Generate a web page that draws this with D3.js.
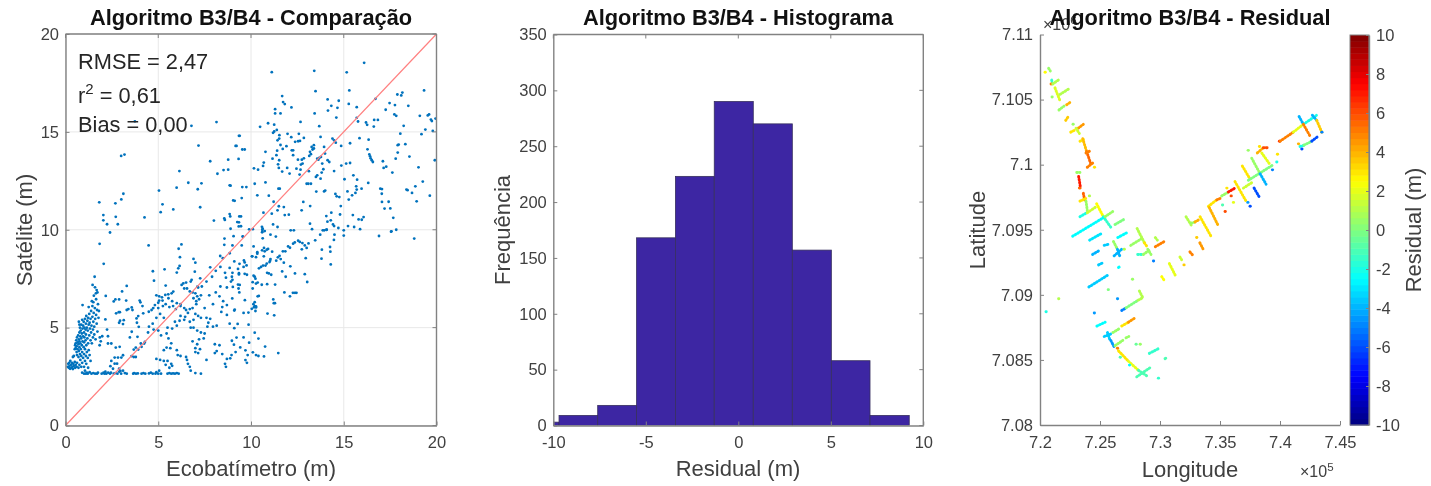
<!DOCTYPE html>
<html><head><meta charset="utf-8">
<script src="https://cdn.jsdelivr.net/npm/d3@7"></script>
<style>html,body{margin:0;background:#fff}svg{display:block;filter:blur(0.35px)}text{font-family:"Liberation Sans",Arial,sans-serif}</style>
</head><body><svg id="c" width="1431" height="486"></svg>
<script>
// ---- Panel 1: Ecobatímetro (x) vs Satélite (y)
const floorRow = [[0.9,2.7],[1.0,2.65],[1.05,2.8],[1.1,2.65],[1.15,2.7],[1.2,2.65],[1.3,2.72],[1.4,2.65],[1.5,2.68],[1.6,2.65],[1.7,2.65],[1.75,2.7],[1.95,2.65],[2.05,2.7],[2.1,2.65],[2.15,2.75],[2.2,2.65],[2.3,2.7],[2.4,2.65],[2.45,2.7],[2.6,2.65],[2.7,2.68],[2.8,2.65],[2.9,2.75],[3.0,2.65],[3.1,2.8],[3.2,2.68],[3.3,2.65],[3.65,2.65],[3.7,2.68],[3.8,2.65],[3.9,2.66],[4.1,2.65],[4.2,2.68],[4.3,2.65],[4.5,2.66],[4.6,2.7],[4.7,2.65],[4.85,2.65],[4.9,2.72],[5.0,2.65],[5.05,2.8],[5.15,2.65],[5.5,2.65],[5.6,2.68],[5.7,2.65],[5.8,2.66],[5.9,2.65],[6.0,2.68],[6.1,2.65],[6.75,2.8],[7.0,2.68],[7.3,2.65]];
const shallowCluster = [[0.12,3.0],[0.15,3.15],[0.18,2.95],[0.2,3.2],[0.22,3.05],[0.25,2.9],[0.26,3.3],[0.3,3.1],[0.32,2.95],[0.35,3.2],[0.38,3.0],[0.4,2.88],[0.42,3.15],[0.45,3.05],[0.5,3.25],[0.52,2.95],[0.55,3.1],[0.6,3.0],[0.62,3.2],[0.7,2.95],[0.75,3.1],[0.85,3.0],[0.4,3.5],[0.45,3.55],[0.62,3.6],
[0.5,3.9],[0.52,4.1],[0.55,4.2],[0.55,3.95],[0.58,4.35],[0.6,4.05],[0.6,3.75],[0.62,4.5],[0.65,4.25],[0.65,3.9],[0.68,4.6],[0.7,4.15],[0.7,3.5],[0.72,4.4],[0.72,3.8],[0.75,4.75],[0.75,4.3],[0.75,4.0],[0.78,3.65],[0.78,5.0],[0.8,4.55],[0.8,4.2],[0.8,3.35],[0.82,3.9],[0.82,4.85],[0.85,5.15],[0.85,4.45],[0.85,3.55],[0.88,4.1],[0.88,4.7],[0.9,5.4],[0.9,3.2],[0.9,3.75],[0.92,4.3],[0.92,4.95],[0.95,5.1],[0.95,4.55],[0.95,3.45],[0.98,4.0],[0.98,5.3],[1.0,4.75],[1.0,4.25],[1.0,3.65],[1.0,3.0],[1.02,5.0],[1.02,4.5],[1.05,5.45],[1.05,3.9],[1.05,3.3],[1.08,4.9],[1.08,4.35],[1.1,5.2],[1.1,4.65],[1.1,3.55],[1.12,5.6],[1.12,4.1],[1.12,3.15],[1.15,5.0],[1.15,3.75],[1.18,5.35],[1.18,4.45],[1.2,4.85],[1.2,3.45],[1.22,5.5],[1.22,4.2],[1.22,2.95],[1.25,5.15],[1.25,3.85],[1.28,5.7],[1.28,4.6],[1.3,5.25],[1.3,3.6],[1.32,4.95],[1.35,5.45],[1.35,4.35],[1.35,3.3],[1.38,5.85],[1.38,4.75],[1.4,5.1],[1.42,4.2],[1.45,5.55],[1.45,6.1],[1.48,4.9],[1.48,4.5],[1.5,5.3],[1.5,6.3],[1.52,5.75],[1.55,4.65],[1.55,5.05],[1.58,6.0],[1.6,5.45],[1.62,4.4],[1.65,5.65],[1.65,6.45],[1.68,5.2],[1.7,5.9],[1.72,4.8],[1.75,6.2],[1.78,5.5],[1.8,5.85],[1.85,4.5],[1.9,4.3],[0.92,6.15],[1.25,6.05],[1.42,6.35],[0.72,5.3],[0.75,5.15]];
const midCloud = [[2.4,9.86],[1.84,9.28],[4.48,9.2],[6.25,9.25],[6.1,9.03],[6.17,8.6],[6.15,8.15],[6.08,8.03],[6.0,7.81],[2.06,8.26],[4.71,7.88],[4.77,7.4],[5.34,7.98],[1.57,7.6],[1.46,7.18],[1.59,7.06],[1.68,6.92],[1.72,6.8],[1.64,6.75],[1.53,6.63],[2.17,6.62],[3.3,7.13],[3.05,6.85],[2.69,6.44],[2.89,6.44],[3.27,6.38],[2.6,6.34],[4.0,6.38],[4.04,6.29],[4.15,6.1],[3.57,6.03],[3.39,5.95],[3.3,5.9],[3.61,5.9],[2.73,5.73],[2.87,5.79],[2.93,5.79],[4.19,5.73],[3.92,5.59],[3.83,5.47],[3.14,5.38],[2.94,5.35],[2.89,5.25],[3.1,5.18],[3.85,5.25],[3.95,5.04],[2.24,4.9],[2.15,5.42],[1.98,4.56],[2.29,4.56],[1.84,4.1],[2.29,4.19],[2.47,4.19],[2.71,3.98],[2.92,4.02],[3.57,4.79],[3.88,4.53],[3.47,4.5],[4.06,4.19],[4.28,4.27],[4.24,4.19],[3.79,3.98],[3.68,3.88],[3.92,3.88],[4.1,4.02],[3.56,3.54],[3.68,3.5],[3.79,3.5],[3.1,3.59],[3.01,3.47],[2.83,3.47],[2.65,3.47],[2.65,3.16],[2.47,3.3],[2.42,3.03],[2.56,2.9],[2.89,2.9],[2.96,2.79],[2.78,3.16],
[4.49,5.81],[4.64,5.9],[4.73,6.0],[4.82,6.15],[5.0,6.27],[5.05,6.38],[5.23,6.38],[5.38,6.67],[5.54,6.7],[5.81,6.84],[5.72,6.75],[5.4,7.15],[6.26,7.18],[6.35,7.26],[6.5,7.3],[6.75,7.35],[6.8,7.44],[6.9,8.51],[7.0,8.32],[6.97,7.86],[7.26,7.52],[7.11,7.09],[7.8,8.08],[8.34,8.66],[8.48,8.55],[8.56,9.23],[4.9,6.65],[5.05,6.6],[5.2,6.55],[5.55,6.5],[5.75,6.35],[6.0,6.25],[6.2,6.2],[6.4,7.0],[6.55,7.0],[6.7,6.85],[6.85,6.8],[7.0,6.75],[7.15,7.05],[7.1,6.6],[7.3,6.65],[6.9,6.5],[7.2,6.45],[7.05,6.35],[5.0,6.0],[5.25,6.1],[5.4,6.2],[5.6,6.05],[5.8,6.1],[5.95,5.95],[6.2,6.1],[6.4,6.0],[6.5,5.9],[6.7,5.95],[6.85,6.0],[6.6,5.75],[7.0,5.7],[7.15,5.6],[7.3,5.5],[6.9,5.4],[6.7,5.3],[6.4,5.4],[6.15,5.35],[5.9,5.3],[6.0,5.1],[5.75,4.95],[5.5,5.0],[5.3,5.5],[5.1,5.7],[4.9,5.5],[4.7,5.2],[4.5,5.05],[4.45,4.75],[4.75,4.9],[5.0,4.85],[5.15,4.6],[5.45,4.7],[5.55,4.45],[5.7,4.2],[5.45,3.98],[5.3,3.85],[5.65,3.95],[6.0,3.85],[6.05,3.6],[6.2,3.55],[4.9,3.4],[5.1,3.35],[5.3,3.3],[5.5,3.3],[5.7,3.15],[5.6,2.95],[5.75,3.05],[5.4,3.1],[6.2,5.6],[6.45,5.55],[6.75,5.0],[6.9,5.0],[7.1,4.85],[7.3,4.75],[7.5,4.7],[7.45,4.45],[7.2,4.4],[7.1,4.15],[7.0,3.95],[7.25,3.9],[6.85,4.3],[6.55,3.35],[6.6,3.15],[6.7,3.0],[6.5,3.5],[7.15,3.7],[7.0,3.75],[7.7,5.25],[7.8,5.45],[7.6,5.5],[7.95,5.05],[8.15,5.1],[7.65,5.05],[7.5,6.0],[7.75,6.65],[7.95,6.2],[8.1,6.8],[8.3,6.6],[8.5,6.35],[8.7,6.15],[8.45,6.05],[8.35,7.1],[8.7,7.05],[8.4,5.8],[8.7,5.65],[8.85,5.2],[8.05,4.15],[8.3,4.1],[8.15,3.8],[8.45,3.65],[8.7,3.4],[8.6,3.15],[8.65,3.0],[8.05,3.7],[7.6,3.35],[7.05,6.2],[7.35,7.1],[7.6,7.35],[7.9,7.6],[8.1,7.9],[8.6,7.8],[8.65,7.55],[8.85,8.05],[8.35,8.1],[9.3,8.0],[8.85,8.8]];
const deepCloud = [[10.2,4.74],[10.4,4.44],[10.76,4.03],[11.47,3.7],[10.7,3.53],[10.1,3.74],[10.27,3.6],[10.4,3.55],[9.9,4.23],[9.6,4.5],[9.22,4.49],[8.97,4.33],[9.08,4.13],[9.42,3.99],[9.7,3.84],[9.17,3.75],[8.95,3.6],[8.88,3.43],[9.82,3.6],[9.7,3.34],[9.78,3.2],[9.28,5.19],[9.87,5.15],[9.1,4.97],[11.25,5.63],[10.89,5.72],[9.86,5.77],[9.6,5.75],[9.1,5.87],[9.12,5.92],[10.24,5.85],[10.04,5.96],[10.16,6.04],[10.27,6.03],[10.2,6.1],[10.27,6.08],[10.13,6.2],[10.2,6.3],[9.67,6.4],[8.99,6.49],[10.36,6.6],[10.42,6.62],[11.2,6.44],[11.29,6.25],[11.23,6.25],[11.8,6.8],[12.1,6.6],[12.26,6.78],[12.37,6.78],[12.45,6.78],[13.03,7.33],[12.9,7.73],[12.37,7.77],[11.87,7.6],[11.68,7.87],[12.12,8.13],[11.3,7.2],[10.87,7.22],[10.58,7.19],[10.36,7.3],[10.27,7.25],[10.09,7.32],[10.09,7.0],[9.33,7.0],[9.37,6.8],[9.02,7.08],[9.3,7.2],[9.39,7.18],[8.92,7.35],[9.0,7.44],[8.97,7.6],[9.0,7.8],[9.35,7.72],[9.35,7.78],[9.66,7.75],[9.78,7.7],[10.2,7.6],[10.14,7.65],[10.24,7.5],[10.87,7.8],[10.96,7.77],[11.09,7.7],[10.43,8.03],[10.54,8.1],[10.65,8.17],[10.78,8.17],[10.85,8.27],[11.0,8.35],[11.05,8.5],[11.03,8.42],[11.36,8.42],[11.45,8.59],[11.54,8.67],[11.6,8.5],[11.77,8.32],[11.72,8.9],[11.85,8.9],[12.0,9.15],[12.1,9.08],[12.27,9.29],[12.36,9.35],[12.54,9.44],[12.63,9.38],[12.77,9.32],[12.9,9.2],[12.95,8.55],[13.0,9.07],[13.1,9.3],[12.74,9.0],[13.46,9.46],[13.8,8.52],[13.82,8.98],[14.26,9.12],[14.28,8.88],[14.3,8.23],[13.73,9.75],[14.47,9.48],[14.5,9.75],[15.0,9.7],[16.9,9.68],[17.57,9.92],[18.8,9.55],[15.0,9.97],[17.83,10.0],[13.87,9.97],[14.07,10.0],[10.14,9.15],[10.05,8.64],[10.34,8.85],[10.34,8.78],[10.6,8.95],[10.7,9.07],[10.74,8.9],[10.85,8.98],[10.92,9.02],[11.14,8.88],[10.69,8.64],[10.27,8.6],[10.07,8.64],[10.6,9.87],[10.63,9.56],[11.05,9.75],[11.34,9.65],[12.14,9.97],[9.1,8.38],[9.38,8.26],[9.62,8.43],[9.66,8.33],[9.6,8.1],[9.76,8.18],[9.0,9.2],[9.5,9.2],[9.55,9.66]];
const upperCloud = [[16.1,18.53],[15.16,18.04],[13.41,18.12],[11.12,18.05],[13.48,17.08],[15.3,17.12],[11.68,16.83],[11.73,16.52],[11.82,16.42],[12.18,16.25],[11.3,16.16],[11.3,15.94],[11.59,15.94],[13.43,15.94],[14.13,16.66],[14.33,16.33],[14.73,16.59],[14.66,16.23],[14.15,16.09],[15.27,16.43],[15.7,16.26],[16.71,16.69],[17.89,16.91],[18.16,17.01],[18.1,16.86],[17.47,16.47],[17.76,16.37],[17.26,16.13],[18.48,16.33],[19.33,17.12],[17.73,15.89],[17.83,15.82],[19.1,15.82],[19.53,15.84],[19.6,15.89],[19.7,15.63],[19.75,15.55],[19.95,15.68],[14.6,15.73],[15.7,15.72],[15.77,15.53],[16.64,15.61],[16.84,15.61],[16.2,15.48],[16.26,15.36],[16.62,15.27],[18.23,15.31],[19.4,15.12],[19.19,14.88],[19.8,15.05],[18.05,14.91],[12.67,15.51],[13.68,15.29],[10.92,15.44],[11.25,15.37],[10.49,15.26],[11.39,15.1],[11.25,15.02],[11.19,14.95],[9.35,14.8],[9.17,14.28],[9.53,14.1],[9.66,14.1],[9.33,13.62],[11.97,14.9],[12.58,14.9],[12.17,14.73],[11.53,14.83],[11.52,14.66],[11.43,14.57],[12.85,14.69],[13.75,14.74],[14.39,14.66],[14.48,14.57],[14.57,14.45],[12.38,14.49],[12.54,14.52],[12.64,14.54],[11.59,14.33],[11.91,14.27],[11.71,14.13],[11.41,14.04],[11.37,13.81],[11.16,13.63],[12.2,14.06],[12.27,14.06],[12.27,13.81],[10.78,13.98],[10.69,13.43],[10.65,13.26],[10.16,13.14],[10.38,13.07],[10.2,12.35],[10.78,12.42],[10.34,11.76],[10.96,11.74],[11.48,12.1],[11.55,12.1],[11.52,13.55],[11.46,13.34],[11.5,13.16],[11.68,12.97],[12.08,12.87],[11.95,13.16],[12.53,13.58],[12.74,13.58],[12.85,13.65],[12.69,13.33],[12.78,13.38],[12.45,13.12],[12.67,13.07],[12.62,12.82],[13.14,13.77],[13.23,13.86],[13.18,13.98],[13.32,14.1],[13.39,14.32],[13.27,14.23],[13.94,14.23],[13.39,14.15],[13.57,13.63],[13.68,13.67],[13.77,13.72],[13.63,13.58],[13.99,13.89],[14.13,13.55],[14.22,13.46],[13.84,13.38],[13.9,13.09],[13.81,12.92],[13.57,12.78],[13.5,12.7],[13.75,12.61],[14.48,13.0],[14.87,13.28],[15.13,13.38],[15.34,13.41],[15.04,12.58],[15.52,12.78],[15.72,12.56],[15.67,12.22],[15.96,12.1],[15.7,12.05],[15.63,11.88],[15.45,11.76],[15.27,11.54],[15.2,11.96],[16.32,12.39],[13.12,12.99],[13.0,12.35],[13.09,12.35],[13.23,12.35],[13.52,11.95],[13.94,11.96],[14.0,12.0],[14.55,11.83],[14.62,11.71],[14.76,11.67],[12.82,11.42],[13.19,11.21],[12.73,10.99],[11.77,11.16],[11.5,11.2],[11.43,10.99],[11.12,10.82],[11.82,10.75],[12.04,10.77],[11.22,11.43],[10.67,10.87],[14.84,11.21],[14.8,10.78],[14.33,10.87],[14.06,10.7],[14.3,10.48],[14.12,10.41],[13.18,10.31],[14.42,10.27],[14.48,10.19],[14.71,10.09],[14.08,10.0],[13.95,9.97],[13.29,10.03],[15.49,10.75],[15.8,10.53],[15.97,10.51],[16.07,10.65],[15.23,10.19],[15.56,10.14],[15.88,10.03],[17.67,10.61],[17.55,9.9],[17.06,11.42],[17.42,11.43],[17.2,11.08],[17.51,11.09],[18.93,11.45],[19.64,11.74],[19.26,12.46],[18.68,11.88],[18.86,12.22],[18.38,12.05],[18.44,12.02],[16.97,12.1],[17.06,12.08],[17.05,11.84],[19.03,13.19],[18.54,13.74],[17.91,13.94],[17.8,13.63],[17.96,14.35],[17.91,14.32],[18.32,14.37],[19.91,13.55],[17.11,13.5],[17.15,13.16],[17.29,13.22],[17.62,12.92],[16.34,14.6],[15.85,14.68],[15.34,14.42],[14.86,14.28],[16.28,14.11],[16.38,13.85],[16.42,13.75],[16.45,13.65],[16.51,13.55],[16.57,13.46],[8.85,12.27],[9.53,12.18],[9.75,12.18],[9.04,11.5],[9.5,11.62],[9.37,10.68],[9.26,10.39],[9.34,10.17],[8.85,10.8],[9.9,10.02],[10.1,10.03],[10.59,10.15],[10.61,10.0],[10.61,9.9],[10.74,9.93],[11.19,10.27],[11.43,10.14],[10.63,10.05],[12.31,9.97]];
const leftUpper = [[3.74,15.54],[6.79,15.31],[8.14,15.5],[9.39,14.8],[9.22,14.28],[7.17,14.3],[8.77,13.58],[7.8,13.5],[3.18,13.84],[3.0,13.77],[6.14,13.0],[8.19,12.86],[8.52,13.05],[8.77,13.07],[6.62,12.4],[7.33,12.37],[7.13,12.07],[5.99,12.15],[5.04,12.0],[8.9,12.25],[3.12,11.84],[3.01,11.55],[2.69,11.35],[1.82,11.4],[5.23,11.3],[5.13,10.9],[5.81,11.04],[7.26,11.15],[9.12,11.48],[2.04,10.75],[2.04,10.48],[2.71,10.66],[2.82,10.28],[2.24,10.28],[4.26,10.63],[8.0,10.47],[8.56,10.58],[8.59,10.5],[8.88,10.68],[9.46,10.68],[9.35,10.38],[9.46,10.18],[8.9,10.05],[8.57,9.55],[9.06,9.67],[9.57,9.64]];
const statLines = ["RMSE = 2,47", "Bias = 0,00"];
const axisTicks15 = [0,5,10,15,20];

// ---- Panel 2: histogram of residuals
const binEdges = [-11.8,-9.69,-7.6,-5.5,-3.4,-1.3,0.81,2.92,5.03,7.12,9.24];
const binCounts = [3,9,18,168,223,290,270,157,58,9];
const histXTicks = [-10,-5,0,5,10];
const histYTicks = [0,50,100,150,200,250,300,350];

// ---- Panel 3: survey tracks [lon1,lat1,lon2,lat2,residual], lon in 1e5 and lat in 1e6
const tracksNorth = [[7.2042,7.1071,7.2042,7.1071,2.5],[7.2072,7.1074,7.2086,7.1072,0.5],[7.2097,7.1065,7.2106,7.1062,-1.5],[7.2092,7.1062,7.2092,7.1062,5],[7.2106,7.1062,7.2153,7.1065,1],[7.2125,7.1059,7.2167,7.1049,1.8],[7.2167,7.1054,7.2236,7.1058,1],[7.21,7.1052,7.21,7.1052,0.5],[7.2158,7.1042,7.22,7.1045,0.5],[7.2222,7.1046,7.2253,7.1048,4],[7.2214,7.1034,7.2236,7.1037,3.5],[7.2275,7.1031,7.2275,7.1031,0.5],[7.2256,7.1025,7.23,7.1027,3],[7.2319,7.1028,7.2361,7.1031,4.5],[7.23,7.1028,7.2328,7.1024,1.5],[7.2333,7.1018,7.2378,7.102,3],[7.2356,7.102,7.2389,7.101,3.8],[7.2389,7.101,7.2422,7.1001,5.5],[7.2383,7.1009,7.2428,7.1011,5],[7.2394,7.0998,7.245,7.1002,5],[7.2453,7.0998,7.2453,7.0998,3],[7.2306,7.0994,7.2333,7.0994,0.5],[7.2322,7.0991,7.2336,7.0983,7],[7.2328,7.0982,7.235,7.0982,5.5],[7.2361,7.0978,7.2372,7.0973,5.5],[7.2333,7.0972,7.2381,7.0974,3],[7.2411,7.0976,7.2411,7.0976,1],[7.2383,7.0972,7.2397,7.0963,0.5],[7.2333,7.096,7.2389,7.0963,-2],[7.2394,7.0963,7.2472,7.0968,1.5],[7.2472,7.097,7.2528,7.096,2.5],[7.2528,7.096,7.2597,7.0951,-1.5],[7.2272,7.0945,7.2542,7.096,-2.5],[7.2542,7.096,7.2606,7.0964,0.5],[7.2625,7.0954,7.27,7.0958,0]];
const tracksSouth = [[7.2413,7.0942,7.251,7.0947,-3],[7.2438,7.0931,7.2493,7.0934,-4],[7.2535,7.0938,7.2579,7.0939,-3.5],[7.2648,7.0944,7.2729,7.0948,-2.5],[7.2488,7.0923,7.2532,7.0925,-3.5],[7.2407,7.0906,7.2562,7.0915,-3.5],[7.2612,7.0941,7.264,7.0936,0.5],[7.2618,7.093,7.2681,7.0935,-4],[7.2645,7.0935,7.2668,7.0929,-4],[7.2654,7.0921,7.2673,7.0922,-2.5],[7.2701,7.0935,7.2701,7.0935,1],[7.2756,7.0938,7.2861,7.0944,0.5],[7.2809,7.0951,7.287,7.094,1],[7.287,7.094,7.2892,7.0937,3],[7.2814,7.0931,7.2856,7.0931,-1.5],[7.2861,7.0931,7.2922,7.0935,0.5],[7.2898,7.0935,7.2925,7.0931,0.5],[7.2945,7.0926,7.2945,7.0926,-5],[7.2961,7.0944,7.2978,7.0942,1],[7.2961,7.0937,7.3036,7.0941,5],[7.277,7.0912,7.277,7.0912,0.5],[7.2568,7.0904,7.2568,7.0904,0],[7.2645,7.0897,7.2645,7.0897,-4.5],[7.2155,7.0897,7.2155,7.0897,1],[7.205,7.0887,7.205,7.0887,-2],[7.2452,7.0886,7.2452,7.0886,-4.5],[7.2828,7.0903,7.2861,7.0897,1],[7.2681,7.0888,7.2717,7.089,-5],[7.2717,7.089,7.282,7.0896,0],[7.282,7.0896,7.2861,7.0898,1],[7.2474,7.0876,7.2543,7.0879,-2.5],[7.2607,7.0871,7.2662,7.0874,0.5],[7.2681,7.0876,7.2737,7.0879,3],[7.2737,7.0879,7.2787,7.0882,4.5],[7.2535,7.0868,7.2593,7.087,-3.5],[7.2562,7.0871,7.2584,7.0865,-3.5],[7.259,7.0865,7.2618,7.086,-4.5],[7.2626,7.0861,7.269,7.0865,0.5],[7.2717,7.0867,7.274,7.0868,0.5],[7.2645,7.0859,7.2645,7.0859,5],[7.2654,7.0857,7.2737,7.0849,3],[7.2737,7.0849,7.282,7.0842,2],[7.282,7.0842,7.2903,7.0837,-1],[7.2806,7.0837,7.2917,7.0844,-1],[7.2668,7.0852,7.2668,7.0852,-1],[7.2745,7.0846,7.2745,7.0846,-2.5],[7.28,7.0862,7.28,7.0862,-0.5],[7.2834,7.0862,7.2834,7.0862,0.5],[7.2911,7.0855,7.2994,7.0859,-1.5],[7.3042,7.0851,7.3064,7.0852,-1],[7.2986,7.0836,7.2986,7.0836,-1.5]];
const tracksEast = [[7.3014,7.0914,7.3036,7.0911,2.5],[7.3078,7.0924,7.3133,7.0914,2],[7.3166,7.0929,7.318,7.0927,1.5],[7.3199,7.0923,7.3199,7.0923,3.5],[7.3249,7.0933,7.3277,7.093,5],[7.3305,7.0944,7.3305,7.0944,3.5],[7.3332,7.094,7.336,7.0935,4.5],[7.3217,7.096,7.3264,7.0953,1],[7.3259,7.0955,7.3292,7.0956,0.5],[7.3292,7.0956,7.3328,7.0958,4],[7.3334,7.096,7.3431,7.0944,3],[7.3403,7.0968,7.3473,7.0973,3],[7.3473,7.0973,7.35,7.0974,5],[7.3411,7.0967,7.3486,7.0953,4],[7.352,7.0969,7.352,7.0969,-1],[7.3542,7.0964,7.3542,7.0964,6],[7.3514,7.0976,7.357,7.0979,0.5],[7.357,7.0979,7.3625,7.0982,7],[7.3556,7.0982,7.3556,7.0982,3],[7.3592,7.0976,7.3592,7.0976,6],[7.3611,7.0971,7.3611,7.0971,2],[7.3625,7.0987,7.3723,7.0971,3],[7.3731,7.0971,7.3731,7.0971,-4.5],[7.375,7.0968,7.375,7.0968,-6],[7.3695,7.0982,7.3778,7.0987,1.5],[7.3784,7.0982,7.3828,7.0975,-6],[7.3686,7.0999,7.375,7.0989,3],[7.3736,7.0988,7.3945,7.1,0],[7.3764,7.1005,7.3834,7.0993,0.5],[7.3834,7.0993,7.3884,7.0985,-4],[7.3848,7.1009,7.3917,7.1,2],[7.3811,7.1009,7.3861,7.1013,4],[7.3861,7.1013,7.3895,7.1013,6],[7.3828,7.1014,7.3828,7.1014,3],[7.3734,7.1011,7.3734,7.1011,0.5],[7.3978,7.1008,7.3978,7.1008,3],[7.3936,7.0996,7.3936,7.0996,-5],[7.3972,7.1002,7.3972,7.1002,-2],[7.3995,7.1018,7.3995,7.1018,7],[7.4,7.1018,7.4111,7.1025,5],[7.4111,7.1025,7.4195,7.1031,2],[7.4195,7.1031,7.4306,7.1038,-2],[7.4159,7.1037,7.4195,7.1031,-4],[7.4195,7.1031,7.425,7.1022,5],[7.427,7.1038,7.4306,7.1034,-4],[7.4306,7.1034,7.4348,7.1025,3.5],[7.4348,7.1025,7.4348,7.1025,-5],[7.4167,7.1014,7.42,7.1015,-2],[7.42,7.1015,7.4264,7.1018,0],[7.4264,7.1018,7.432,7.1022,-6],[7.4153,7.1016,7.4153,7.1016,4],[7.4181,7.1012,7.4181,7.1012,-6]];
const lonTicks = [7.2,7.25,7.3,7.35,7.4,7.45];
const latTicks = [7.08,7.085,7.09,7.095,7.1,7.105,7.11];
const barTicks = [-10,-8,-6,-4,-2,0,2,4,6,8,10];

// ---- drawing
const svg = d3.select("#c");
const INK = "#404040", AX = "#828282", TICKF = 16.5, LABF = 22, TITLEF = 21.8;
const plain = d => String(d);
function styleAxis(g){
  g.selectAll("path").attr("stroke",AX).attr("stroke-width",1.4);
  g.selectAll("line").attr("stroke",AX).attr("stroke-width",1);
  g.selectAll("text").attr("fill",INK).attr("font-size",TICKF).attr("font-family","Liberation Sans");
}
function text(x,y,s,size,opts={}){
  return svg.append("text").attr("x",x).attr("y",y).attr("text-anchor",opts.anchor||"middle")
    .attr("font-size",size).attr("font-weight",opts.bold?"bold":"normal").attr("fill",opts.fill||INK)
    .attr("transform",opts.rot?`rotate(-90 ${x} ${y})`:null).text(s);
}
function frame(x,y,w,h,xTop,yRight){
  const g = svg.append("g");
  xTop.forEach(v=>g.append("line").attr("x1",x+v).attr("x2",x+v).attr("y1",y).attr("y2",y+4).attr("stroke",AX));
  yRight.forEach(v=>g.append("line").attr("x1",x+w).attr("x2",x+w-4).attr("y1",v).attr("y2",v).attr("stroke",AX));
  g.append("line").attr("x1",x).attr("x2",x+w).attr("y1",y).attr("y2",y).attr("stroke",AX).attr("stroke-width",1.4);
  g.append("line").attr("x1",x+w).attr("x2",x+w).attr("y1",y).attr("y2",y+h).attr("stroke",AX).attr("stroke-width",1.4);
}

// Panel 1
{
  const L=65.5,R=436.5,T=34,B=425.5;
  const x=d3.scaleLinear([0,20],[L,R]), y=d3.scaleLinear([0,20],[B,T]);
  const g=svg.append("g");
  axisTicks15.forEach(v=>{
    g.append("line").attr("x1",x(v)).attr("x2",x(v)).attr("y1",T).attr("y2",B).attr("stroke","#e8e8e8");
    g.append("line").attr("x1",L).attr("x2",R).attr("y1",y(v)).attr("y2",y(v)).attr("stroke","#e8e8e8");
  });
  const pts=[...floorRow,...shallowCluster,...midCloud,...deepCloud,...upperCloud,...leftUpper];
  g.selectAll("circle").data(pts).join("circle").attr("cx",d=>x(d[0])).attr("cy",d=>y(d[1])).attr("r",1.4).attr("fill","#0072BD");
  g.append("line").attr("x1",x(0)).attr("y1",y(0)).attr("x2",x(20)).attr("y2",y(20)).attr("stroke","#ff8080").attr("stroke-width",1.2);
  svg.append("g").attr("transform",`translate(0,${B})`).call(d3.axisBottom(x).tickValues(axisTicks15).tickFormat(plain).tickSize(-4).tickSizeOuter(0).tickPadding(11)).call(styleAxis);
  svg.append("g").attr("transform",`translate(${L},0)`).call(d3.axisLeft(y).tickValues(axisTicks15).tickFormat(plain).tickSize(-4).tickSizeOuter(0).tickPadding(6.5)).call(styleAxis);
  frame(L,T,R-L,B-T,axisTicks15.map(v=>x(v)-L),axisTicks15.map(v=>y(v)));
  text(251,25,"Algoritmo B3/B4 - Comparação",TITLEF,{bold:true,fill:"#111"});
  text(251,476,"Ecobatímetro (m)",LABF);
  text(32,230,"Satélite (m)",LABF,{rot:true});
  text(78,69,statLines[0],21.8,{anchor:"start",fill:"#262626"});
  const r=text(78,103,"",21.8,{anchor:"start",fill:"#262626"});
  r.append("tspan").text("r");
  r.append("tspan").attr("dy",-9).attr("font-size",15).text("2");
  r.append("tspan").attr("dy",9).text(" = 0,61");
  text(78,132,statLines[1],21.8,{anchor:"start",fill:"#262626"});
}

// Panel 2
{
  const L=553.3,R=923.3,T=34.5,B=425.5;
  const x=d3.scaleLinear([-10,10],[L,R]), y=d3.scaleLinear([0,350],[B,T]);
  svg.append("defs").append("clipPath").attr("id","hc").append("rect").attr("x",L).attr("y",T).attr("width",R-L).attr("height",B-T);
  svg.append("g").attr("clip-path","url(#hc)").selectAll("rect").data(binCounts).join("rect")
    .attr("x",(d,i)=>x(binEdges[i])).attr("width",(d,i)=>x(binEdges[i+1])-x(binEdges[i]))
    .attr("y",d=>y(d)).attr("height",d=>B-y(d)).attr("fill","#3d26a3").attr("stroke","#38305f").attr("stroke-width",0.8);
  svg.append("g").attr("transform",`translate(0,${B})`).call(d3.axisBottom(x).tickValues(histXTicks).tickFormat(plain).tickSize(-4).tickSizeOuter(0).tickPadding(11)).call(styleAxis);
  svg.append("g").attr("transform",`translate(${L},0)`).call(d3.axisLeft(y).tickValues(histYTicks).tickFormat(plain).tickSize(-4).tickSizeOuter(0).tickPadding(6.5)).call(styleAxis);
  frame(L,T,R-L,B-T,histXTicks.map(v=>x(v)-L),histYTicks.map(v=>y(v)));
  text(738,25,"Algoritmo B3/B4 - Histograma",TITLEF,{bold:true,fill:"#111"});
  text(738,476,"Residual (m)",LABF);
  text(510,230,"Frequência",LABF,{rot:true});
}

// Panel 3
{
  const L=1040,R=1340,T=34.5,B=425;
  const x=d3.scaleLinear([7.2,7.45],[L,R]), y=d3.scaleLinear([7.08,7.11],[B,T]);
  const jet=t=>{const c=v=>Math.max(0,Math.min(1,1.5-Math.abs(4*t-v)));return d3.rgb(255*c(3),255*c(2),255*c(1)).formatHex();};
  const color=d3.scaleSequential([-10,10],jet);
  svg.append("g").selectAll("line").data([...tracksNorth,...tracksSouth,...tracksEast]).join("line")
    .attr("x1",d=>x(d[0])).attr("y1",d=>y(d[1])).attr("x2",d=>x(d[2])).attr("y2",d=>y(d[3]))
    .attr("stroke",d=>color(d[4])).attr("stroke-width",2.9).attr("stroke-linecap","round").attr("stroke-dasharray","0.8 2.2");
  svg.append("g").attr("transform",`translate(0,${B})`).call(d3.axisBottom(x).tickValues(lonTicks).tickFormat(plain).tickSize(-4).tickSizeOuter(0).tickPadding(11)).call(styleAxis);
  svg.append("g").attr("transform",`translate(${L},0)`).call(d3.axisLeft(y).tickValues(latTicks).tickFormat(plain).tickSize(-4).tickSizeOuter(0).tickPadding(7)).call(styleAxis);
  text(1043,30,"×10",16,{anchor:"start"}).append("tspan").attr("dy",-6).attr("font-size",11.5).text("6");
  text(1300,477,"×10",16,{anchor:"start"}).append("tspan").attr("dy",-6).attr("font-size",11.5).text("5");
  text(1190,25,"Algoritmo B3/B4 - Residual",TITLEF,{bold:true,fill:"#111"});
  text(1190,477,"Longitude",LABF);
  text(985,230,"Latitude",LABF,{rot:true});
  // colour bar
  const cy=d3.scaleLinear([-10,10],[425,35]);
  const bands=d3.range(64).map(i=>-10+i*20/64);
  svg.append("g").selectAll("rect").data(bands).join("rect").attr("x",1350).attr("width",19)
    .attr("y",d=>cy(d+20/64)).attr("height",d=>cy(d)-cy(d+20/64)+0.5).attr("fill",d=>color(d+10/64));
  svg.append("rect").attr("x",1350).attr("y",35).attr("width",19).attr("height",390).attr("fill","none").attr("stroke",AX);
  svg.append("g").attr("transform","translate(1369,0)").call(d3.axisRight(cy).tickValues(barTicks).tickFormat(plain).tickSize(-3).tickSizeOuter(0).tickPadding(7)).call(styleAxis);
  text(1421,230,"Residual (m)",LABF,{rot:true});
}
</script></body></html>
